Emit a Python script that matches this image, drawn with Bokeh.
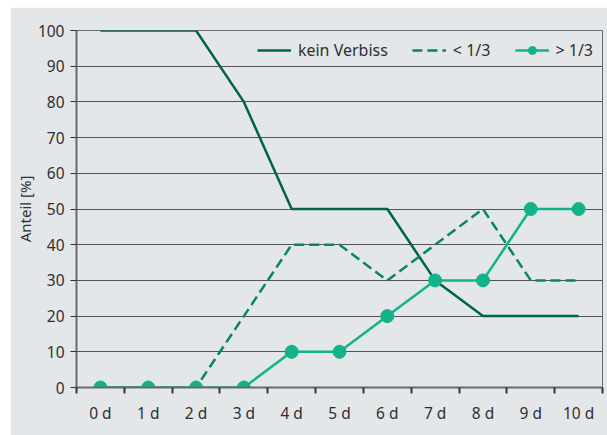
from bokeh.plotting import figure
from bokeh.models import Range1d, FixedTicker, Legend, LegendItem, ColumnDataSource, Spacer
from bokeh.layouts import column, row
from bokeh.embed import file_html
from bokeh.resources import INLINE

days = ["0 d", "1 d", "2 d", "3 d", "4 d", "5 d", "6 d", "7 d", "8 d", "9 d", "10 d"]
kein_verbiss = [100, 100, 100, 80, 50, 50, 50, 30, 20, 20, 20]
unter_drittel = [0, 0, 0, 20, 40, 40, 30, 40, 50, 30, 30]
ueber_drittel = [0, 0, 0, 0, 10, 10, 20, 30, 30, 50, 50]
y_ticks = list(range(0, 101, 10))

FONT = "Noto Sans"
TXT = "#2f2f2f"
BG = "#e3e7ea"

x = list(range(len(days)))
src = ColumnDataSource(dict(x=x, a=kein_verbiss, b=unter_drittel, c=ueber_drittel))

p = figure(width=597, height=428, output_backend="svg", toolbar_location=None,
           x_range=Range1d(-0.5, len(days) - 0.5), y_range=Range1d(0, 100),
           min_border_left=66, min_border_right=5, min_border_top=23, min_border_bottom=48)
p.background_fill_color = BG
p.border_fill_color = BG
p.outline_line_color = "#6a6a6a"
p.outline_line_width = 1

p.xgrid.visible = False
p.ygrid.grid_line_color = "#555555"
p.ygrid.grid_line_width = 1
p.ygrid.ticker = FixedTicker(ticks=y_ticks)

p.xaxis.ticker = FixedTicker(ticks=x, minor_ticks=[i - 0.5 for i in range(len(days) + 1)])
p.xaxis.major_label_overrides = {i: d for i, d in enumerate(days)}
p.xaxis.major_tick_out = 0
p.xaxis.major_tick_in = 0
p.xaxis.minor_tick_out = 6
p.xaxis.minor_tick_in = 0
p.xaxis.minor_tick_line_color = "#333333"
p.xaxis.minor_tick_line_width = 2
p.xaxis.major_label_standoff = 8

p.yaxis.ticker = FixedTicker(ticks=y_ticks)
p.yaxis.major_tick_out = 6
p.yaxis.major_tick_in = 0
p.yaxis.minor_tick_out = 0
p.yaxis.minor_tick_in = 0
p.yaxis.major_tick_line_color = "#333333"
p.yaxis.major_label_standoff = 6
p.yaxis.axis_label = "Anteil [%]"
p.yaxis.axis_label_standoff = 0

for ax in (p.xaxis[0], p.yaxis[0]):
    ax.axis_line_color = "#6a6a6a"
    ax.axis_line_width = 2
    ax.major_label_text_font = FONT
    ax.major_label_text_font_size = "15.5px"
    ax.major_label_text_color = TXT
    ax.axis_label_text_font = FONT
    ax.axis_label_text_font_size = "15px"
    ax.axis_label_text_font_style = "normal"
    ax.axis_label_text_color = TXT

r1 = p.line("x", "a", source=src, line_color="#00634b", line_width=2.5)
r2 = p.line("x", "b", source=src, line_color="#0a8564", line_width=2.5, line_dash="10 5")
r3 = p.line("x", "c", source=src, line_color="#12b38a", line_width=2.5)
r4 = p.scatter("x", "c", source=src, size=13, fill_color="#12b38a", line_color="#12b38a")

legend = Legend(items=[
    LegendItem(label="kein Verbiss", renderers=[r1]),
    LegendItem(label="< 1/3", renderers=[r2]),
    LegendItem(label="> 1/3", renderers=[r3, r4]),
], location="top_right", orientation="horizontal")
legend.background_fill_alpha = 0
legend.border_line_alpha = 0
legend.label_text_font = FONT
legend.label_text_font_size = "16px"
legend.label_text_color = TXT
legend.glyph_width = 34
legend.label_standoff = 7
legend.spacing = 24
legend.margin = 5
legend.padding = 4
p.add_layout(legend, "center")

layout = row(Spacer(width=10), column(Spacer(height=7), p))
open("out.html", "w").write(file_html(layout, INLINE))
